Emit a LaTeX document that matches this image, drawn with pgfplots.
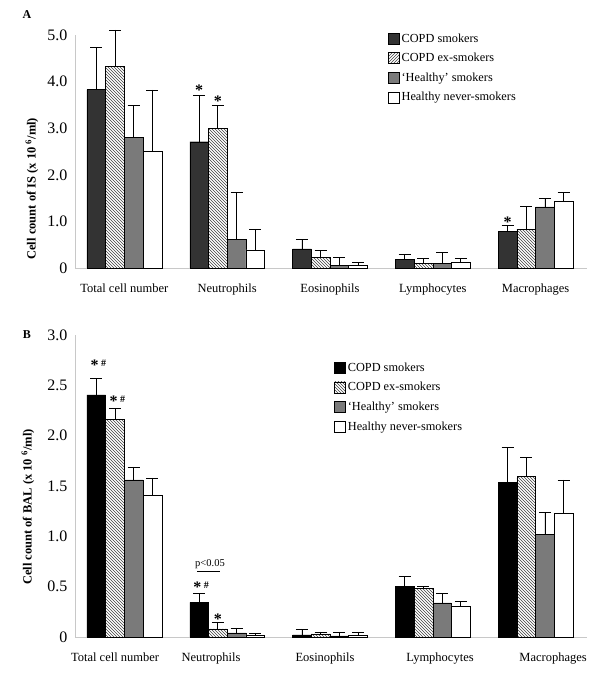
\documentclass[border=0pt]{standalone}
\usepackage{fontspec}
\setmainfont{Liberation Serif}
\usepackage{pgfplots}
\pgfplotsset{compat=1.18}
\usetikzlibrary{patterns}

\definecolor{darkbar}{HTML}{333333}
\definecolor{midgray}{HTML}{7A7A7A}
\definecolor{axisgray}{HTML}{C8C8C8}

\newcommand{\starf}{\fontsize{16}{16}\selectfont\bfseries}
\newcommand{\sh}{\raisebox{4pt}{\fontsize{10}{10}\selectfont\#}}

\pgfplotsset{
  cellbars/.style={
    ybar=0pt, bar width=18.7pt,
    scale only axis, width=512pt,
    xmin=-0.48, xmax=4.5,
    clip=false,
    axis lines*=left,
    axis line style={axisgray, line width=0.6pt},
    major tick length=0pt,
    /pgf/number format/assume math mode=true,
    yticklabel style={font=\fontsize{16}{16}\selectfont, xshift=-4pt},
    xticklabel style={font=\fontsize{12.5}{14}\selectfont, yshift=-12pt},
    ylabel style={font=\bfseries\fontsize{12.5}{14}\selectfont, anchor=center},
    error bars/y dir=plus, error bars/y explicit,
    error bars/error mark=|,
    error bars/error bar style={black, line width=0.7pt},
    error bars/error mark options={black, line width=0.7pt, mark size=6pt},
    legend style={draw=none, fill=none, font=\fontsize{12.3}{14}\selectfont,
      anchor=north west, cells={anchor=west}, row sep=5.5pt, inner sep=0pt},
    legend image code/.code={\draw[#1, line width=0.6pt] (0pt,-5.5pt) rectangle (11pt,5.5pt);},
  },
}

\begin{document}
\begin{tikzpicture}
\path[use as bounding box] (0,0) rectangle (600pt,676pt);

% panel A: induced sputum
\begin{axis}[cellbars, at={(75pt,408pt)}, anchor=south west, height=233pt,
  ymin=0, ymax=5,
  ytick={0,1,2,3,4,5}, yticklabels={0,1.0,2.0,3.0,4.0,5.0},
  xtick={0,1,2,3,4},
  xticklabels={Total cell number, Neutrophils, Eosinophils, Lymphocytes, Macrophages},
  ylabel={Cell count of IS (x 10 \textsuperscript{6}/ml)},
  ylabel style={at={(axis description cs:-0.084,0.34)}},
  legend style={at={(axis description cs:0.611,1.015)}},
]
\addplot[draw=black, fill=darkbar] coordinates {
  (0,3.83) +- (0,0.90)
  (1,2.71) +- (0,0.99)
  (2,0.41) +- (0,0.21)
  (3,0.18) +- (0,0.11)
  (4,0.79) +- (0,0.12)
};
\addplot[draw=black, pattern=north west lines, pattern color=black!75,
  legend image code/.code={\draw[draw=black, pattern=north east lines, pattern color=black!75, line width=0.6pt] (0pt,-5.5pt) rectangle (11pt,5.5pt);}] coordinates {
  (0,4.33) +- (0,0.78)
  (1,3.00) +- (0,0.49)
  (2,0.23) +- (0,0.14)
  (3,0.10) +- (0,0.10)
  (4,0.83) +- (0,0.49)
};
\addplot[draw=black, fill=midgray] coordinates {
  (0,2.80) +- (0,0.69)
  (1,0.62) +- (0,1.00)
  (2,0.06) +- (0,0.16)
  (3,0.10) +- (0,0.23)
  (4,1.31) +- (0,0.19)
};
\addplot[draw=black, fill=white] coordinates {
  (0,2.51) +- (0,1.31)
  (1,0.39) +- (0,0.43)
  (2,0.06) +- (0,0.06)
  (3,0.13) +- (0,0.08)
  (4,1.44) +- (0,0.19)
};
\legend{COPD smokers, COPD ex-smokers, `Healthy' smokers, Healthy never-smokers}
\node[font=\starf, xshift=-28pt, yshift=-2.5pt] at (axis cs:1,3.86) {*};
\node[font=\starf, xshift=-9.3pt, yshift=-2.5pt] at (axis cs:1,3.63) {*};
\node[font=\starf, xshift=-28pt, yshift=-2.5pt] at (axis cs:4,1.03) {*};
\end{axis}

% panel B: bronchoalveolar lavage
\begin{axis}[cellbars, at={(75pt,39pt)}, anchor=south west, height=302pt,
  ymin=0, ymax=3,
  ytick={0,0.5,1,1.5,2,2.5,3}, yticklabels={0,0.5,1.0,1.5,2.0,2.5,3.0},
  xtick={-0.09,0.843,1.952,3.07,4.17},
  xticklabels={Total cell number, Neutrophils, Eosinophils, Lymphocytes, Macrophages},
  ylabel={Cell count of BAL (x 10 \textsuperscript{6}/ml)},
  ylabel style={at={(axis description cs:-0.092,0.43)}},
  legend style={at={(axis description cs:0.506,0.915)}},
]
\addplot[draw=black, fill=black] coordinates {
  (0,2.405) +- (0,0.165)
  (1,0.345) +- (0,0.085)
  (2,0.02) +- (0,0.06)
  (3,0.50) +- (0,0.10)
  (4,1.534) +- (0,0.352)
};
\addplot[draw=black, pattern=north west lines, pattern color=black!75] coordinates {
  (0,2.164) +- (0,0.109)
  (1,0.08) +- (0,0.07)
  (2,0.03) +- (0,0.02)
  (3,0.48) +- (0,0.02)
  (4,1.593) +- (0,0.187)
};
\addplot[draw=black, fill=midgray] coordinates {
  (0,1.56) +- (0,0.13)
  (1,0.04) +- (0,0.05)
  (2,0.01) +- (0,0.04)
  (3,0.34) +- (0,0.09)
  (4,1.02) +- (0,0.215)
};
\addplot[draw=black, fill=white] coordinates {
  (0,1.41) +- (0,0.17)
  (1,0.02) +- (0,0.02)
  (2,0.02) +- (0,0.03)
  (3,0.31) +- (0,0.04)
  (4,1.226) +- (0,0.334)
};
\legend{COPD smokers, COPD ex-smokers, `Healthy' smokers, Healthy never-smokers}
\node[font=\starf, xshift=-26pt, yshift=-2.5pt] at (axis cs:0,2.72) {*\,\sh};
\node[font=\starf, xshift=-7pt, yshift=-2.5pt] at (axis cs:0,2.37) {*\,\sh};
\node[font=\starf, xshift=-26pt, yshift=-2.5pt] at (axis cs:1,0.52) {*\,\sh};
\node[font=\starf, xshift=-9.3pt, yshift=-2.5pt] at (axis cs:1,0.20) {*};
\draw[black, line width=0.6pt] (axis cs:0.707,0.656) -- (axis cs:0.93,0.656);
\node[font=\fontsize{10.5}{12}\selectfont] at (axis cs:0.833,0.726) {p<0.05};
\end{axis}

\node[font=\bfseries\fontsize{12}{12}\selectfont] at (27pt,661pt) {A};
\node[font=\bfseries\fontsize{12}{12}\selectfont] at (27pt,341pt) {B};
\end{tikzpicture}
\end{document}
